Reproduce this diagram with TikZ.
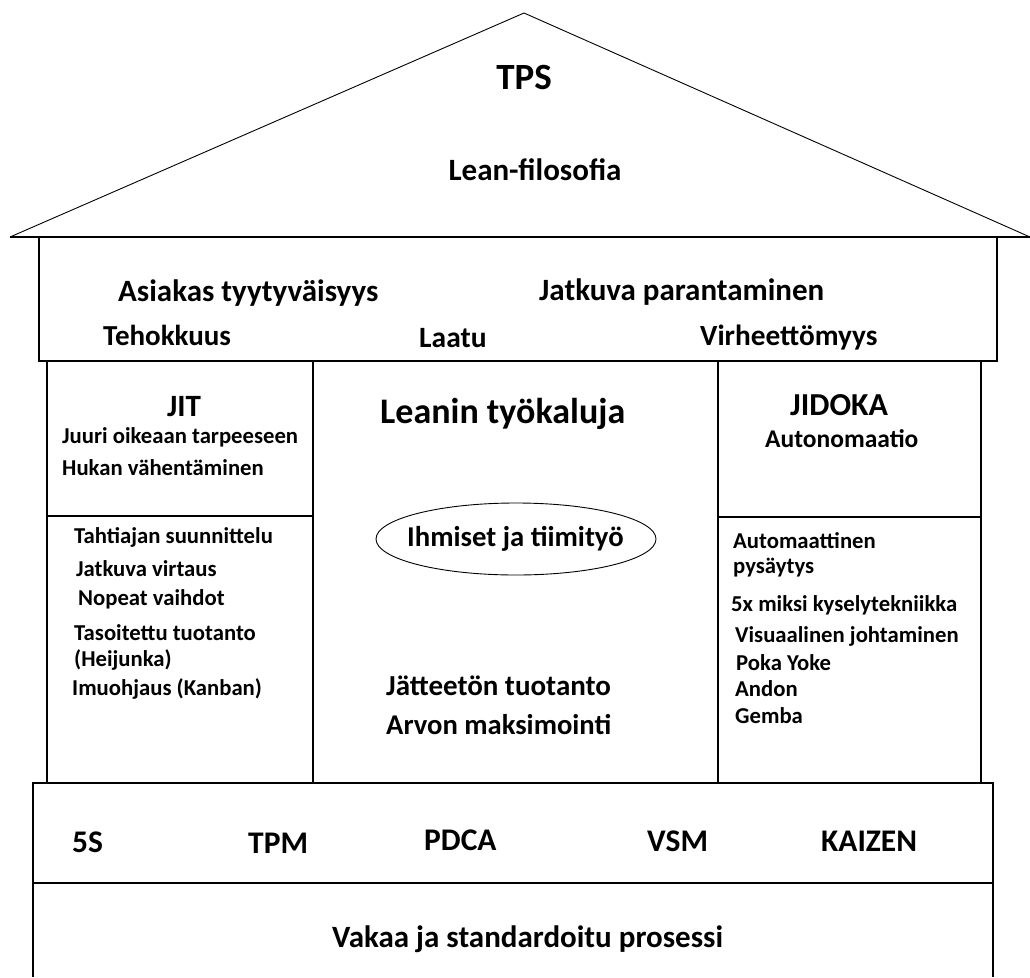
\documentclass[tikz,border=0pt]{standalone}
\usepackage{fontspec}
\setmainfont{Carlito}
\usepackage{tikz}
\usetikzlibrary{positioning}

\begin{document}
\begin{tikzpicture}[
  x=1pt, y=-1pt,
  wall/.style={line width=1.5pt},
  thin line/.style={line width=0.9pt},
  every node/.style={inner sep=0pt, anchor=base west},
  sz/.style={font=\fontsize{#1}{#1}\selectfont\bfseries},
  item/.style={sz=22.7},
]
\useasboundingbox (0,0) rectangle (1030,977);

% Roof
\draw[thin line] (10,237) -- (524,13) -- (1030,237);
\node[sz=37, anchor=base] (tps) at (524,89) {TPS};
\node[sz=31, anchor=base] (phil) at (535,180) {Lean-filosofia};

% Goals
\draw[wall] (10,237) -- (1030,237);
\draw[wall] (39,237) rectangle (997,361);
\node[sz=31] (cust) at (118,301) {Asiakas tyytyväisyys};
\node[sz=31] (impr) at (539,300) {Jatkuva parantaminen};
\node[sz=29] (eff) at (103,345) {Tehokkuus};
\node[sz=29.5] (qual) at (419,347) {Laatu};
\node[sz=29.3] (zero) at (700,345) {Virheettömyys};

% Pillars
\draw[wall] (47,361) rectangle (313,783);
\draw[wall] (313,361) rectangle (718,783);
\draw[wall] (718,361) rectangle (981,783);
\draw[wall] (47,516) -- (313,516);
\draw[wall] (718,517) -- (981,517);

% JIT
\node[sz=31, anchor=base] (jit) at (184,416) {JIT};
\node[item] (jit1) at (62,443) {Juuri oikeaan tarpeeseen};
\node[item] (jit2) at (62,475) {Hukan vähentäminen};
\node[item] (j1) at (74,543) {Tahtiajan suunnittelu};
\node[item] (j2) at (76,576) {Jatkuva virtaus};
\node[item] (j3) at (78,605) {Nopeat vaihdot};
\node[item] (j4) at (74,640) {Tasoitettu tuotanto};
\node[item] (j5) at (74,666) {(Heijunka)};
\node[item] (j6) at (72,695) {Imuohjaus (Kanban)};

% Center
\node[sz=36] (tools) at (380,423) {Leanin työkaluja};
\draw[thin line] (516,539) ellipse (140 and 36);
\node[sz=28.7] (people) at (407,546) {Ihmiset ja tiimityö};
\node[sz=29] (waste) at (386,695) {Jätteetön tuotanto};
\node[sz=28.6] (value) at (386,734) {Arvon maksimointi};

% JIDOKA
\node[sz=32] (jid) at (790,415) {JIDOKA};
\node[sz=25.5] (jid1) at (765,447) {Autonomaatio};
\node[item] (k1) at (733,548) {Automaattinen};
\node[item] (k2) at (733,573) {pysäytys};
\node[item] (k3) at (731,611) {5x miksi kyselytekniikka};
\node[item] (k4) at (735,642) {Visuaalinen johtaminen};
\node[item] (k5) at (736,670) {Poka Yoke};
\node[item] (k6) at (735,696) {Andon};
\node[item] (k7) at (735,723) {Gemba};

% Base
\draw[wall] (33,977) -- (33,783) -- (993,783) -- (993,977);
\draw[wall] (33,883) -- (993,883);
\node[sz=31.5] (s5) at (72,852) {5S};
\node[sz=31.5] (tpm) at (248,853) {TPM};
\node[sz=31.5] (pdca) at (424,850) {PDCA};
\node[sz=31.5] (vsm) at (647,851) {VSM};
\node[sz=31.5] (kai) at (821,851) {KAIZEN};
\node[sz=31] (std) at (332,947) {Vakaa ja standardoitu prosessi};

\end{tikzpicture}
\end{document}
